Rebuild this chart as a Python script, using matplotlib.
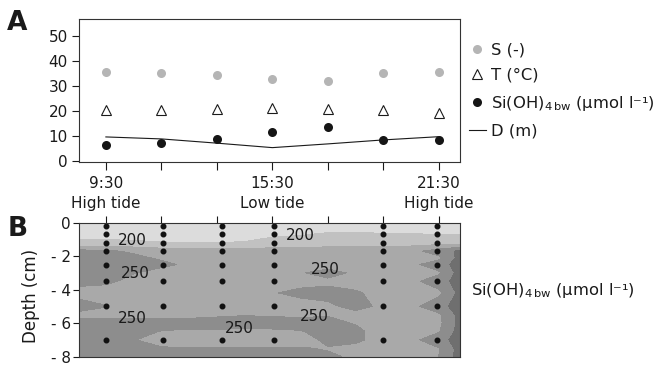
import numpy as np
import matplotlib.pyplot as plt

plt.rcParams['font.family'] = ['DejaVu Sans']
plt.rcParams['font.size'] = 11
plt.rcParams['text.color'] = '#1a1a1a'
plt.rcParams['xtick.color'] = '#1a1a1a'
plt.rcParams['ytick.color'] = '#1a1a1a'

# panel A: bottom water time series
times = [9.5, 11.5, 13.5, 15.5, 17.5, 19.5, 21.5]
time_labels = ['9:30\nHigh tide', '', '', '15:30\nLow tide', '', '', '21:30\nHigh tide']
salinity = [35.5, 35.1, 34.4, 32.8, 32.1, 35.1, 35.6]
temperature = [20.4, 20.4, 21.0, 21.3, 20.8, 20.4, 19.1]
si_bw = [6.4, 7.3, 8.7, 11.6, 13.7, 8.3, 8.3]
water_depth = [9.6, 8.8, 7.1, 5.3, 6.8, 8.4, 9.7]
si_label = r'Si(OH)$_{\mathregular{4\,bw}}$ (µmol l⁻¹)'

# panel B: porewater Si(OH)4 section
sample_times = [9.5, 11.55, 13.7, 15.55, 19.5, 21.45]
sample_depths = [-0.2, -0.7, -1.2, -1.7, -2.5, -3.5, -5.0, -7.0]
grid_times = [8.53, 9.5, 10.5, 11.5, 12.5, 13.5, 14.5, 15.5, 16.5, 17.5,
              18.5, 19.5, 20.5, 21.5, 22.26]
grid_depths = [0, -0.2, -0.7, -1.2, -1.7, -2.1, -2.5, -3.0, -3.5, -4.2,
               -5.0, -5.5, -6.0, -6.5, -7.0, -7.5, -8.0]
si_grid = np.array([
    [185, 185, 185, 185, 185, 185, 185, 185, 185, 185, 185, 185, 185, 185, 185],
    [188, 188, 188, 188, 188, 188, 188, 188, 188, 188, 188, 188, 188, 188, 188],
    [192, 192, 192, 192, 192, 193, 194, 196, 198, 203, 203, 202, 201, 200, 200],
    [204, 205, 203, 201, 200, 200, 201, 208, 212, 214, 214, 214, 214, 214, 214],
    [258, 254, 246, 238, 236, 236, 236, 236, 236, 236, 236, 236, 242, 262, 280],
    [265, 264, 256, 246, 238, 237, 236, 236, 236, 236, 236, 236, 238, 244, 284],
    [268, 266, 262, 256, 245, 246, 238, 244, 238, 240, 238, 236, 244, 263, 286],
    [265, 262, 251, 240, 237, 236, 236, 238, 248, 258, 246, 238, 240, 246, 285],
    [258, 255, 243, 238, 237, 236, 236, 237, 240, 245, 240, 238, 244, 262, 287],
    [240, 238, 236, 235, 235, 235, 236, 248, 257, 257, 253, 241, 238, 244, 282],
    [262, 251, 238, 236, 236, 236, 236, 236, 238, 246, 256, 246, 244, 264, 288],
    [242, 241, 241, 242, 244, 247, 249, 248, 247, 249, 244, 238, 240, 246, 283],
    [262, 262, 262, 259, 258, 258, 258, 257, 256, 254, 249, 240, 240, 244, 282],
    [265, 264, 258, 249, 247, 247, 246, 247, 249, 255, 254, 242, 240, 248, 285],
    [265, 262, 251, 240, 238, 238, 238, 239, 242, 254, 253, 244, 244, 263, 288],
    [265, 264, 259, 252, 251, 251, 251, 251, 251, 249, 246, 240, 240, 249, 285],
    [268, 266, 264, 262, 261, 260, 259, 258, 256, 252, 248, 242, 242, 250, 285],
])
levels = [150, 200, 225, 250, 275, 320]
band_colors = ['#dcdcdc', '#c1c1c1', '#a9a9a9', '#8d8d8d', '#6f6f6f']
label_spots = [(10.45, -1.2), (16.5, -1.0), (10.6, -3.1), (17.4, -2.8),
               (10.45, -5.7), (17.0, -5.5), (14.3, -6.4)]

fig = plt.figure(figsize=(6.58, 3.65), dpi=100)
ax1 = fig.add_axes([0.120, 0.556, 0.579, 0.392])
ax2 = fig.add_axes([0.120, 0.023, 0.579, 0.367])

ax1.plot(times, salinity, 'o', color='#b5b5b5', ms=6.5, mec='none', label='S (-)')
ax1.plot(times, temperature, '^', mfc='white', mec='#1a1a1a', mew=0.8, ms=7,
         label='T (°C)')
ax1.plot(times, si_bw, 'o', color='#151515', ms=6.5, mec='none', label=si_label)
ax1.plot(times, water_depth, '-', color='#1a1a1a', lw=0.8, label='D (m)')

ax1.set_xlim(8.53, 22.26)
ax1.set_ylim(-0.5, 57)
ax1.set_yticks([0, 10, 20, 30, 40, 50])
ax1.set_xticks(times)
ax1.set_xticklabels(time_labels, linespacing=1.45)
ax1.tick_params(axis='x', length=6, width=0.8, pad=4, labelsize=11)
ax1.tick_params(axis='y', length=5, width=0.8, pad=3, labelsize=11)
for s in ax1.spines.values():
    s.set_color('#333333')
    s.set_linewidth(0.8)

fig.legend(loc='upper left', bbox_to_anchor=(0.703, 0.902), frameon=False,
           fontsize=11.8, handlelength=1.0, handletextpad=0.35, labelspacing=0.65,
           borderaxespad=0)

T, Dp = np.meshgrid(grid_times, grid_depths)
ax2.contourf(T, Dp, si_grid, levels=levels, colors=band_colors)
cs = ax2.contour(T, Dp, si_grid, levels=[200, 250], linewidths=0)
labs = ax2.clabel(cs, manual=label_spots, fmt='%d', inline=False, fontsize=11,
                  colors='#1a1a1a')
for t in labs:
    t.set_rotation(0)

for st in sample_times:
    ax2.plot([st] * len(sample_depths), sample_depths, 'o', color='#111111', ms=3.3)

ax2.set_xlim(8.53, 22.26)
ax2.set_ylim(-8, 0)
ax2.set_xticks(times)
ax2.set_yticks([-8, -6, -4, -2, 0])
ax2.set_yticklabels(['- 8', '- 6', '- 4', '- 2', '0'])
ax2.tick_params(axis='x', top=True, bottom=False, labeltop=False, labelbottom=False,
                length=5, width=0.8)
ax2.tick_params(axis='y', length=4, width=0.8, pad=2, labelsize=11)
for s in ax2.spines.values():
    s.set_color('#333333')
    s.set_linewidth(0.8)

fig.text(0.047, 0.188, 'Depth (cm)', rotation=90, ha='center', va='center', fontsize=12)
fig.text(0.716, 0.203, si_label, va='center', fontsize=11.8)
fig.text(0.011, 0.918, 'A', fontsize=19, fontweight='bold')
fig.text(0.011, 0.353, 'B', fontsize=19, fontweight='bold')

fig.savefig('out.png', dpi=100)
